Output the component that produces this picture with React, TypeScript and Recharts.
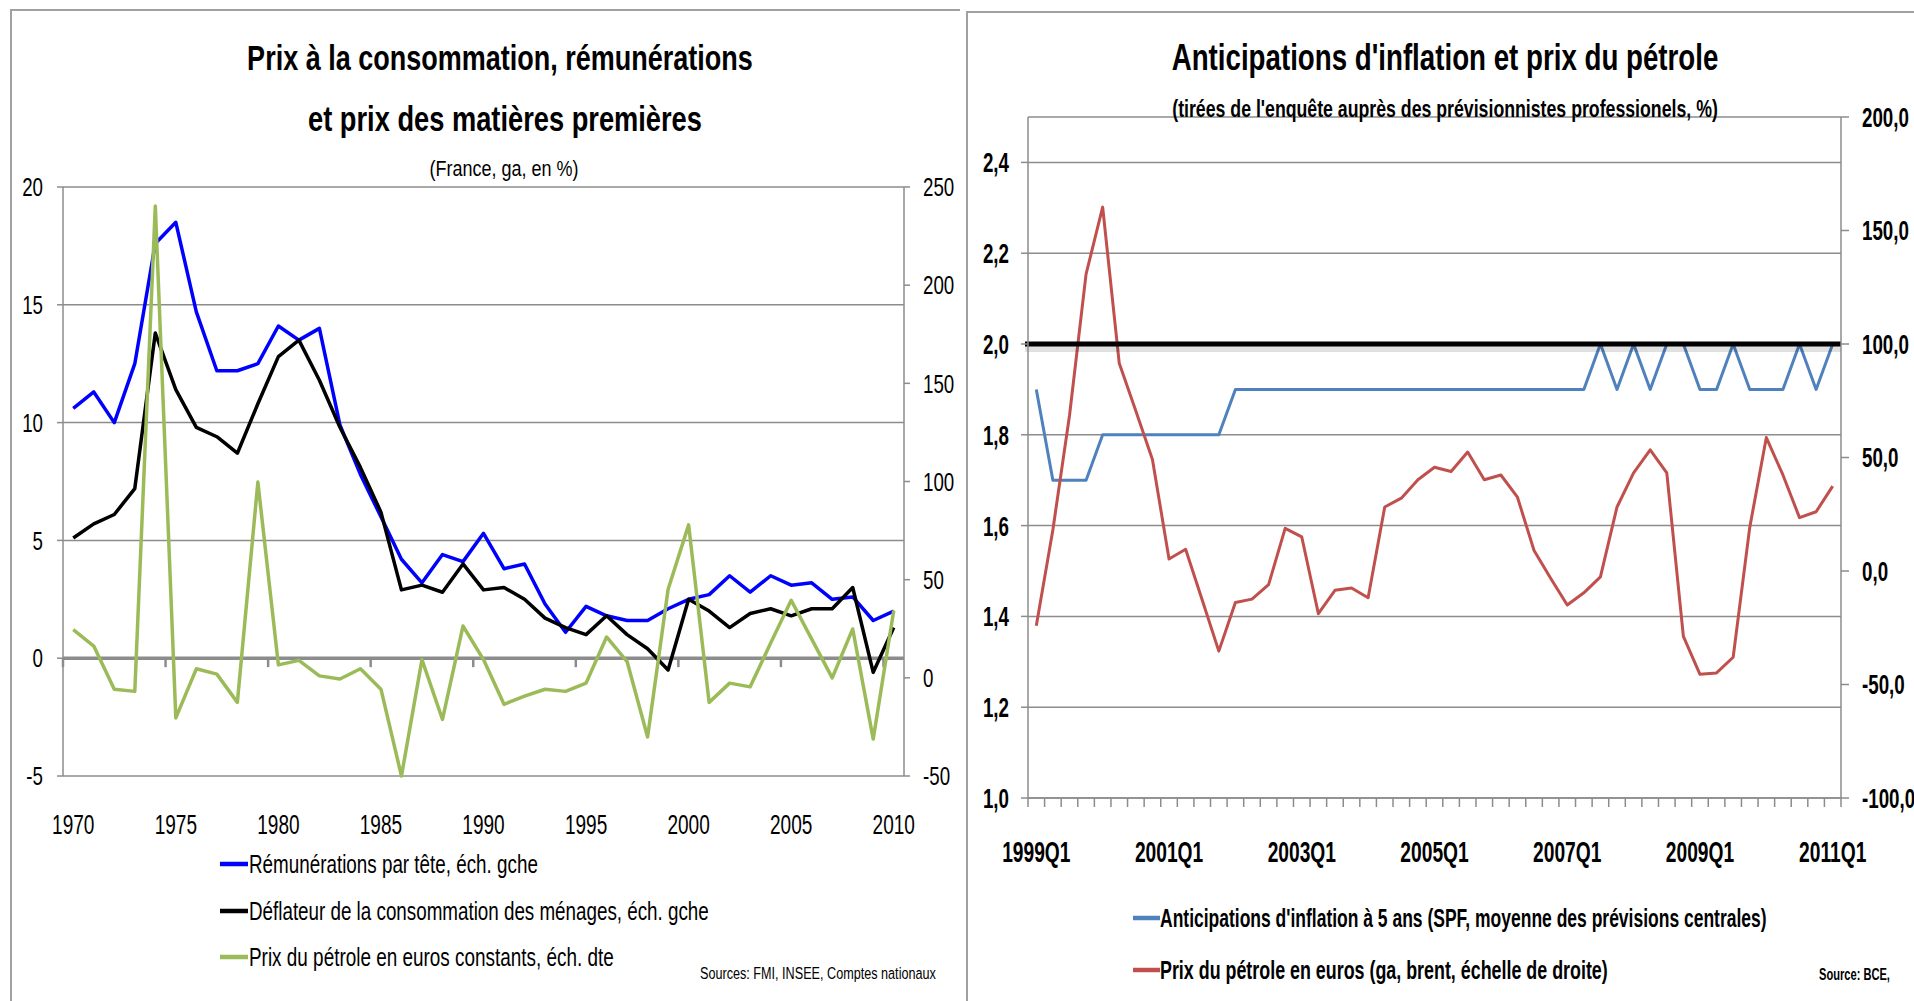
import React from "react";
import { LineChart, Line, XAxis, YAxis, CartesianGrid, ReferenceLine } from "recharts";

const FONT = "'Liberation Sans', Arial, sans-serif";
const GRID = "#8c8c8c";

// ---- left panel : France, annual growth rates
const years = [
  1970, 1971, 1972, 1973, 1974, 1975, 1976, 1977, 1978, 1979,
  1980, 1981, 1982, 1983, 1984, 1985, 1986, 1987, 1988, 1989,
  1990, 1991, 1992, 1993, 1994, 1995, 1996, 1997, 1998, 1999,
  2000, 2001, 2002, 2003, 2004, 2005, 2006, 2007, 2008, 2009, 2010,
];
const remunerations = [
  10.6, 11.3, 10.0, 12.5, 17.6, 18.5, 14.7, 12.2, 12.2, 12.5,
  14.1, 13.5, 14.0, 9.9, 7.8, 6.0, 4.2, 3.2, 4.4, 4.1,
  5.3, 3.8, 4.0, 2.3, 1.1, 2.2, 1.8, 1.6, 1.6, 2.1,
  2.5, 2.7, 3.5, 2.8, 3.5, 3.1, 3.2, 2.5, 2.6, 1.6, 2.0,
];
const deflateur = [
  5.1, 5.7, 6.1, 7.2, 13.8, 11.4, 9.8, 9.4, 8.7, 10.8,
  12.8, 13.5, 11.8, 9.8, 8.1, 6.2, 2.9, 3.1, 2.8, 4.0,
  2.9, 3.0, 2.5, 1.7, 1.3, 1.0, 1.8, 1.0, 0.4, -0.5,
  2.5, 2.0, 1.3, 1.9, 2.1, 1.8, 2.1, 2.1, 3.0, -0.6, 1.3,
];
const petroleConstant = [
  24.5, 16.2, -5.8, -6.9, 240.3, -20.4, 4.6, 1.9, -12.5, 99.7,
  6.6, 8.9, 1.0, -0.6, 4.6, -5.8, -50, 9.3, -21.2, 26.4,
  9.3, -13.5, -9.3, -5.8, -6.9, -2.7, 20.8, 8.3, -30.1, 45.1,
  77.9, -12.5, -2.7, -4.6, 17.7, 39.5, 19.7, 0, 24.9, -31.2, 34.3,
];
const leftTicks = [-5, 0, 5, 10, 15, 20];
const oilTicksLeft = [-50, 0, 50, 100, 150, 200, 250];
const yearTicks = [1970, 1975, 1980, 1985, 1990, 1995, 2000, 2005, 2010];
const zeroLineTicks = [1969.5, 1974.5, 1979.5, 1984.5, 1989.5, 1994.5, 1999.5, 2004.5, 2009.5];

const leftSeries = [
  { key: "rem", name: "Rémunérations par tête, éch. gche", color: "#0000ff", axis: "left", w: 289 },
  { key: "defl", name: "Déflateur de la consommation des ménages, éch. gche", color: "#000000", axis: "left", w: 460 },
  { key: "oil", name: "Prix du pétrole en euros constants, éch. dte", color: "#9bbb59", axis: "right", w: 365 },
];

// ---- right panel : SPF expectations and oil price
const quarters = Array.from({ length: 49 }, (_, i) => `${1999 + Math.floor(i / 4)}Q${(i % 4) + 1}`);
const anticipations = [
  1.9, 1.7, 1.7, 1.7, 1.8, 1.8, 1.8, 1.8, 1.8, 1.8, 1.8, 1.8,
  1.9, 1.9, 1.9, 1.9, 1.9, 1.9, 1.9, 1.9, 1.9, 1.9, 1.9, 1.9,
  1.9, 1.9, 1.9, 1.9, 1.9, 1.9, 1.9, 1.9, 1.9, 1.9,
  2.0, 1.9, 2.0, 1.9, 2.0, 2.0, 1.9, 1.9, 2.0, 1.9, 1.9, 1.9, 2.0, 1.9, 2.0,
];
const petroleEuros = [
  -24.1, 18.2, 68.4, 130.8, 160.3, 91.5, 70.5, 49.1, 5.3, 9.6,
  -12.8, -35.3, -13.9, -12.4, -6.0, 18.8, 15.0, -18.8, -8.5, -7.5,
  -11.8, 28.2, 32.1, 40.2, 45.7, 43.8, 52.4, 40.2, 42.3, 32.5,
  9.0, -3.2, -15.0, -9.6, -2.6, 28.2, 43.2, 53.4, 43.2, -28.8,
  -45.5, -44.9, -38.0, 19.2, 58.8, 42.3, 23.5, 26.1, 37.4,
];
const inflTicks = [1.0, 1.2, 1.4, 1.6, 1.8, 2.0, 2.2, 2.4];
const oilTicksRight = [-100, -50, 0, 50, 100, 150, 200];
const quarterLabels = [0, 8, 16, 24, 32, 40, 48];
const quarterBounds = [...quarters.map((_, i) => i - 0.5), quarters.length - 0.5];
const TARGET = 2.0;

const rightSeries = [
  { key: "antic", name: "Anticipations d'inflation à 5 ans (SPF, moyenne des prévisions centrales)", color: "#4f81bd", axis: "l", w: 607 },
  { key: "oil", name: "Prix du pétrole en euros (ga, brent, échelle de droite)", color: "#c0504d", axis: "r", w: 448 },
];

const leftData = years.map((year, i) => ({
  year,
  rem: remunerations[i],
  defl: deflateur[i],
  oil: petroleConstant[i],
}));
const rightData = quarters.map((q, i) => ({ idx: i, q, antic: anticipations[i], oil: petroleEuros[i] }));

const comma = (v: number) => v.toFixed(1).replace(".", ",");

// measure natural text width so condensed labels can be squeezed to the reference width
let ctx: CanvasRenderingContext2D | null = null;
function measure(text: string, size: number, bold: boolean) {
  if (!ctx) ctx = document.createElement("canvas").getContext("2d");
  if (!ctx) return text.length * size * 0.5;
  ctx.font = `${bold ? "bold " : ""}${size}px ${FONT}`;
  return ctx.measureText(text).width;
}

function SquishTick(props: any) {
  const { x, y, payload, anchor, sx, size, bold, dx = 0, dy = 0, format } = props;
  const label = format ? format(payload.value) : String(payload.value);
  return (
    <text
      transform={`translate(${x + dx},${y + dy}) scale(${sx},1)`}
      textAnchor={anchor}
      dominantBaseline="central"
      fontFamily={FONT}
      fontSize={size}
      fontWeight={bold ? 700 : 400}
      fill="#000"
    >
      {label}
    </text>
  );
}

function QuarterTick(props: any) {
  const { x, y, payload } = props;
  const v = payload.value;
  if (Number.isInteger(v)) {
    return <SquishTick x={x} y={y} payload={{ value: quarters[v] }} anchor="middle" sx={0.64} size={30} bold dy={53} />;
  }
  return <line x1={x} x2={x} y1={y} y2={y + 9} stroke={GRID} strokeWidth={1.5} />;
}

function LeftChart() {
  return (
    <LineChart width={960} height={1001} data={leftData} margin={{ top: 187, right: 0, bottom: 165, left: 0 }}>
      <CartesianGrid xAxisId="x" yAxisId="left" vertical={false} stroke={GRID} strokeWidth={1.5} />
      <XAxis
        xAxisId="x"
        dataKey="year"
        type="number"
        domain={[1969.5, 2010.5]}
        ticks={yearTicks}
        interval={0}
        height={60}
        axisLine={false}
        tickLine={false}
        tickSize={0}
        tickMargin={0}
        tick={(p: any) => <SquishTick {...p} anchor="middle" sx={0.68} size={28} dy={48} />}
      />
      <YAxis
        yAxisId="left"
        width={63}
        domain={[-5, 20]}
        ticks={leftTicks}
        interval={0}
        tickSize={6}
        tickMargin={14}
        tickLine={{ stroke: GRID, strokeWidth: 1.5 }}
        axisLine={{ stroke: GRID, strokeWidth: 1.5 }}
        tick={(p: any) => <SquishTick {...p} anchor="end" sx={0.72} size={26} />}
      />
      <YAxis
        yAxisId="right"
        orientation="right"
        width={56}
        domain={[-50, 250]}
        ticks={oilTicksLeft}
        interval={0}
        tickSize={6}
        tickMargin={13}
        tickLine={{ stroke: GRID, strokeWidth: 1.5 }}
        axisLine={{ stroke: GRID, strokeWidth: 1.5 }}
        tick={(p: any) => <SquishTick {...p} anchor="start" sx={0.72} size={26} />}
      />
      <ReferenceLine xAxisId="x" yAxisId="left" y={0} stroke={GRID} strokeWidth={3.5} />
      {zeroLineTicks.map((t) => (
        <ReferenceLine
          key={t}
          xAxisId="x"
          yAxisId="left"
          segment={[{ x: t, y: 0 }, { x: t, y: -0.38 }]}
          stroke={GRID}
          strokeWidth={2.5}
        />
      ))}
      {leftSeries.map((s) => (
        <Line
          key={s.key}
          xAxisId="x"
          yAxisId={s.axis}
          dataKey={s.key}
          name={s.name}
          type="linear"
          stroke={s.color}
          strokeWidth={3.5}
          strokeLinejoin="round"
          dot={false}
          isAnimationActive={false}
        />
      ))}
    </LineChart>
  );
}

function TargetLine(props: any) {
  const { x1, x2, y1, y2 } = props;
  return (
    <g>
      <line x1={x1 - 3} x2={x2} y1={y1 + 4} y2={y2 + 4} stroke="#000" strokeOpacity={0.12} strokeWidth={8} />
      <line x1={x1 - 3} x2={x2} y1={y1} y2={y2} stroke="#000" strokeWidth={5} />
    </g>
  );
}

function RightChart() {
  return (
    <LineChart width={954} height={1001} data={rightData} margin={{ top: 117, right: 0, bottom: 143, left: 0 }}>
      <CartesianGrid xAxisId="q" yAxisId="l" vertical={false} stroke={GRID} strokeWidth={1.5} />
      <XAxis
        xAxisId="q"
        dataKey="idx"
        type="number"
        domain={[-0.5, quarters.length - 0.5]}
        ticks={[...quarterBounds, ...quarterLabels].sort((a, b) => a - b)}
        interval={0}
        height={60}
        axisLine={{ stroke: GRID, strokeWidth: 1.5 }}
        tickLine={false}
        tickSize={0}
        tickMargin={0}
        tick={(p: any) => <QuarterTick {...p} />}
      />
      <YAxis
        yAxisId="l"
        width={68}
        domain={[1.0, 2.5]}
        ticks={inflTicks}
        interval={0}
        tickSize={7}
        tickMargin={12}
        tickLine={{ stroke: GRID, strokeWidth: 1.5 }}
        axisLine={{ stroke: GRID, strokeWidth: 1.5 }}
        tick={(p: any) => <SquishTick {...p} anchor="end" sx={0.67} size={28} bold format={comma} />}
      />
      <YAxis
        yAxisId="r"
        orientation="right"
        width={73}
        domain={[-100, 200]}
        ticks={oilTicksRight}
        interval={0}
        tickSize={8}
        tickMargin={13}
        tickLine={{ stroke: GRID, strokeWidth: 1.5 }}
        axisLine={{ stroke: GRID, strokeWidth: 1.5 }}
        tick={(p: any) => <SquishTick {...p} anchor="start" sx={0.67} size={28} bold format={comma} />}
      />
      {rightSeries.map((s) => (
        <Line
          key={s.key}
          xAxisId="q"
          yAxisId={s.axis}
          dataKey={s.key}
          name={s.name}
          type="linear"
          stroke={s.color}
          strokeWidth={3}
          strokeLinejoin="round"
          dot={false}
          isAnimationActive={false}
        />
      ))}
      <ReferenceLine xAxisId="q" yAxisId="l" y={TARGET} shape={(p: any) => <TargetLine {...p} />} />
    </LineChart>
  );
}

function Txt({ x, y, w, size, bold = false, children, anchor = "start" }: any) {
  const sx = w / measure(children, size, bold);
  return (
    <text
      transform={`translate(${x},${y}) scale(${sx},1)`}
      textAnchor={anchor}
      fontFamily={FONT}
      fontSize={size}
      fontWeight={bold ? 700 : 400}
      fill="#000"
    >
      {children}
    </text>
  );
}

function Overlay() {
  const leftRows = [873, 920, 966];
  const rightRows = [927, 979];
  return (
    <svg width={1914} height={1001} style={{ position: "absolute", left: 0, top: 0, pointerEvents: "none" }}>
      {/* panel frames */}
      <polyline points="11,1001 11,10 960,10" fill="none" stroke="#a0a0a0" strokeWidth={2} />
      <polyline points="967,1001 967,12 1914,12" fill="none" stroke="#a0a0a0" strokeWidth={2} />

      <Txt x={500} y={70} w={506} size={36} bold anchor="middle">Prix à la consommation, rémunérations</Txt>
      <Txt x={505} y={131} w={394} size={36} bold anchor="middle">et prix des matières premières</Txt>
      <Txt x={504} y={176} w={149} size={22} anchor="middle">(France, ga, en %)</Txt>

      <Txt x={1445} y={70} w={547} size={36} bold anchor="middle">Anticipations d'inflation et prix du pétrole</Txt>
      <Txt x={1445} y={117} w={546} size={23} bold anchor="middle">(tirées de l'enquête auprès des prévisionnistes professionels, %)</Txt>

      {leftSeries.map((s, i) => (
        <g key={s.key}>
          <line x1={220} x2={248} y1={leftRows[i] - 9} y2={leftRows[i] - 9} stroke={s.color} strokeWidth={4.5} />
          <Txt x={249} y={leftRows[i]} w={s.w} size={25}>{s.name}</Txt>
        </g>
      ))}
      <Txt x={700} y={979} w={236} size={17}>Sources: FMI, INSEE, Comptes nationaux</Txt>

      {rightSeries.map((s, i) => (
        <g key={s.key}>
          <line x1={1133} x2={1160} y1={rightRows[i] - 9} y2={rightRows[i] - 9} stroke={s.color} strokeWidth={4.5} />
          <Txt x={1160} y={rightRows[i]} w={s.w} size={25} bold>{s.name}</Txt>
        </g>
      ))}
      <Txt x={1819} y={980} w={71} size={16} bold>Source: BCE,</Txt>
    </svg>
  );
}

export default function App() {
  return (
    <div style={{ position: "absolute", left: 0, top: 0, width: 1914, height: 1001, background: "#fff", overflow: "hidden" }}>
      <div style={{ position: "absolute", left: 0, top: 0 }}>
        <LeftChart />
      </div>
      <div style={{ position: "absolute", left: 960, top: 0 }}>
        <RightChart />
      </div>
      <Overlay />
    </div>
  );
}
